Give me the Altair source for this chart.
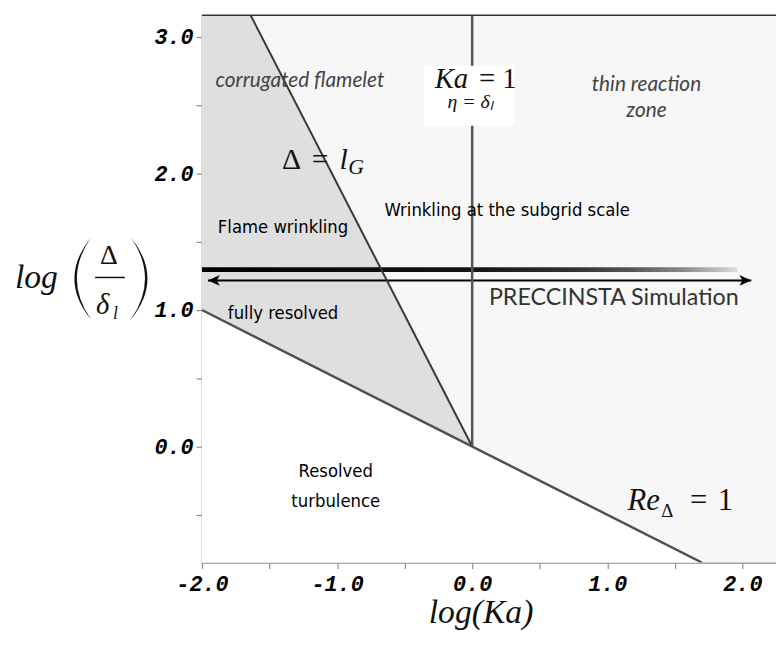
import altair as alt
import pandas as pd

# ---- data ----
x_min, x_max = -2.0, 2.249
y_min, y_max = -0.85, 3.16

# regime boundaries (log Ka, log Delta/delta_l)
re_x = [-2.0, 1.7]          # Re_Delta = 1
re_y = [1.0, -0.85]
lg_x = [0.0, -1.64]         # Delta = l_G
lg_y = [0.0, 3.16]
ka_x = [0.0, 0.0]           # Ka = 1
ka_y = [0.0, 3.16]

# PRECCINSTA simulation band
bar_x = [-2.0, 1.963]
bar_y = [1.278, 1.314]
arrow_x = [-1.956, 2.066]
arrow_y = [1.217, 1.217]

x_ticks = [-2.0, -1.5, -1.0, -0.5, 0.0, 0.5, 1.0, 1.5, 2.0]
y_ticks = [-0.5, 0.0, 0.5, 1.0, 1.5, 2.0, 2.5, 3.0]

# ---- layout ----
W, H = 580, 553
SERIF = "Liberation Serif"
SANS = "Lato"
COND = "'Liberation Sans Narrow', 'DejaVu Sans Condensed', 'Roboto Condensed', 'Roboto', sans-serif"
MONO = "Liberation Mono"

xs = alt.Scale(domain=[x_min, x_max], nice=False, zero=False)
ys = alt.Scale(domain=[y_min, y_max], nice=False, zero=False)
LBL = "datum.value % 1 == 0 ? (datum.value < 0 ? '-' : '') + format(abs(datum.value), '.1f') : ''"

axis_common = dict(title=None, grid=False, domainColor="#8c8c8c", domainWidth=1.5,
                   tickColor="#8c8c8c", tickWidth=1.2, tickSize=6,
                   labelFont=MONO, labelFontSize=22, labelFontWeight="bold",
                   labelFontStyle="italic", labelColor="#000",
                   labelFlush=False, labelOverlap=False, labelExpr=LBL)
x_axis = alt.Axis(values=x_ticks, labelPadding=5, **axis_common)
y_axis = alt.Axis(values=y_ticks, labelPadding=3, **axis_common)


def X(f="x"):
    return alt.X(f"{f}:Q", scale=xs, axis=x_axis)


def Y(f="y"):
    return alt.Y(f"{f}:Q", scale=ys, axis=y_axis)


one = alt.Data(values=[{}])

# background (thin reaction zone / subgrid wrinkling)
bg = alt.Chart(pd.DataFrame({"x": [x_min], "x2": [x_max], "y": [y_min], "y2": [y_max]})).mark_rect(
    color="#f7f7f7").encode(x=X(), x2="x2:Q", y=Y(), y2="y2:Q")

# corrugated flamelet region (darker)
dark = alt.Chart(pd.DataFrame({"x": [re_x[0], lg_x[1], lg_x[0]],
                               "y": [y_min, y_min, y_min],
                               "y2": [y_max, lg_y[1], lg_y[0]]})).mark_area(
    color="#dfdfdf", opacity=1).encode(x=X(), y=Y(), y2="y2:Q")

# resolved turbulence region (white, below Re line)
white = alt.Chart(pd.DataFrame({"x": re_x, "y": [y_min, y_min], "y2": re_y})).mark_area(
    color="#ffffff", opacity=1).encode(x=X(), y=Y(), y2="y2:Q")

# gradient bar
grad = alt.Gradient(gradient="linear", x1=0, x2=1, y1=0, y2=0, stops=[
    alt.GradientStop(offset=0.0, color="#000000"),
    alt.GradientStop(offset=0.5, color="#141414"),
    alt.GradientStop(offset=0.7, color="#333333"),
    alt.GradientStop(offset=0.8, color="#555555"),
    alt.GradientStop(offset=0.9, color="#8a8a8a"),
    alt.GradientStop(offset=0.96, color="#bbbbbb"),
    alt.GradientStop(offset=1.0, color="#dddddd"),
])
bar = alt.Chart(pd.DataFrame({"x": [bar_x[0]], "x2": [bar_x[1]], "y": [bar_y[0]], "y2": [bar_y[1]]})).mark_rect(
    color=grad).encode(x=X(), x2="x2:Q", y=Y(), y2="y2:Q")

arrow = alt.Chart(pd.DataFrame({"x": [arrow_x[0]], "x2": [arrow_x[1]], "y": [arrow_y[0]]})).mark_rule(
    color="#000", strokeWidth=2).encode(x=X(), x2="x2:Q", y=Y())
head_r = alt.Chart(pd.DataFrame({"x": [arrow_x[1]], "y": [arrow_y[1]]})).mark_point(
    shape="M0,0 L-2,-0.9 L-1.5,0 L-2,0.9 Z", filled=True, size=144, color="#000",
    opacity=1, strokeWidth=0).encode(x=X(), y=Y())
head_l = alt.Chart(pd.DataFrame({"x": [arrow_x[0]], "y": [arrow_y[0]]})).mark_point(
    shape="M0,0 L2,-0.9 L1.5,0 L2,0.9 Z", filled=True, size=144, color="#000",
    opacity=1, strokeWidth=0).encode(x=X(), y=Y())

# boundary lines
re_line = alt.Chart(pd.DataFrame({"x": re_x, "y": re_y})).mark_line(
    color="#505050", strokeWidth=2.5, clip=True).encode(x=X(), y=Y())
lg_line = alt.Chart(pd.DataFrame({"x": lg_x, "y": lg_y})).mark_line(
    color="#383838", strokeWidth=2, clip=True).encode(x=X(), y=Y(), order=alt.Order("y:Q"))
ka_line = alt.Chart(pd.DataFrame({"x": [ka_x[0]], "y": [ka_y[0]], "y2": [ka_y[1]]})).mark_rule(
    color="#555555", strokeWidth=2.5).encode(x=X(), y=Y(), y2="y2:Q")

# white box behind Ka = 1 label
kabox = alt.Chart(pd.DataFrame({"x": [-0.359], "x2": [0.315], "y": [2.35], "y2": [2.79]})).mark_rect(
    color="#ffffff").encode(x=X(), x2="x2:Q", y=Y(), y2="y2:Q")

# frame top
top = alt.Chart(one).mark_rule(color="#333333", strokeWidth=1.5).encode(
    x=alt.value(0), x2=alt.value(W), y=alt.value(0))


def txt(t, x, y, font=SERIF, size=20, color="#111", style="normal", weight="normal",
        align="center", baseline="alphabetic"):
    return alt.Chart(pd.DataFrame({"x": [x], "y": [y], "t": [t]})).mark_text(
        font=font, fontSize=size, color=color, fontStyle=style, fontWeight=weight,
        align=align, baseline=baseline).encode(x=X(), y=Y(), text="t:N")


def ptxt(t, px, py, font=SERIF, size=20, color="#111", style="normal", align="left",
         baseline="alphabetic"):
    return alt.Chart(one).mark_text(text=t, font=font, fontSize=size, color=color,
                                    fontStyle=style, align=align, baseline=baseline).encode(
        x=alt.value(px), y=alt.value(py))


texts = [
    txt("corrugated flamelet", -1.275, 2.675, SANS, 21, "#444", "italic", baseline="middle"),
    txt("thin reaction", 1.29, 2.65, SANS, 21, "#444", "italic", baseline="middle"),
    txt("zone", 1.29, 2.46, SANS, 21, "#444", "italic", baseline="middle"),
    txt("Ka", -0.03, 2.63, SERIF, 29, "#111", "italic", align="right"),
    txt("= 1", 0.05, 2.63, SERIF, 29, "#111", align="left"),
    txt("η = δₗ", -0.015, 2.48, SERIF, 20, "#111", "italic"),
    txt("Δ", -1.407, 2.036, SERIF, 30, "#111", align="left"),
    txt("=", -1.187, 2.036, SERIF, 30, "#111", align="left"),
    txt("l", -0.982, 2.036, SERIF, 30, "#111", "italic", align="left"),
    txt("G", -0.918, 1.995, SERIF, 22, "#111", "italic", align="left"),
    txt("Flame wrinkling", -1.40, 1.61, COND, 18.5, "#000", baseline="middle"),
    txt("Wrinkling at the subgrid scale", 0.26, 1.73, COND, 18.5, "#000", baseline="middle"),
    txt("fully resolved", -1.40, 0.98, COND, 18.5, "#000", baseline="middle"),
    txt("Resolved", -1.01, -0.18, COND, 18.5, "#000", baseline="middle"),
    txt("turbulence", -1.01, -0.40, COND, 18.5, "#000", baseline="middle"),
    txt("PRECCINSTA Simulation", 1.048, 1.087, SANS, 23.5, "#333", baseline="middle"),
    txt("Re", 1.15, -0.466, SERIF, 31, "#111", "italic", align="left"),
    txt("Δ", 1.40, -0.52, SERIF, 19, "#111", align="left"),
    txt("=", 1.612, -0.466, SERIF, 31, "#111", align="left"),
    txt("1", 1.817, -0.466, SERIF, 31, "#111", align="left"),
]

# axis titles
ytitle = [
    ptxt("log", -189, 276, SERIF, 34, "#111", "italic"),
    ptxt("Δ", -94, 251, SERIF, 28, "#111", align="center"),
    ptxt("δ", -107, 302, SERIF, 29, "#111", "italic"),
    ptxt("l", -90, 307, SERIF, 18, "#111", "italic"),
    alt.Chart(one).mark_rule(color="#111", strokeWidth=1.5).encode(
        x=alt.value(-108), x2=alt.value(-78), y=alt.value(265)),
    alt.Chart(one).mark_point(shape="M0.19,-1 Q-0.62,0 0.19,1 Q-0.5,0 0.19,-1 Z", filled=True,
                              size=6889, color="#111", opacity=1, strokeWidth=0).encode(
        x=alt.value(-120), y=alt.value(266)),
    alt.Chart(one).mark_point(shape="M-0.19,-1 Q0.62,0 -0.19,1 Q0.5,0 -0.19,-1 Z", filled=True,
                              size=6889, color="#111", opacity=1, strokeWidth=0).encode(
        x=alt.value(-64), y=alt.value(266)),
]
xtitle = [ptxt("log(Ka)", 282, 614, SERIF, 34, "#111", "italic", align="center")]

chart = alt.layer(bg, dark, white, bar, arrow, head_r, head_l, re_line, lg_line, ka_line,
                  kabox, top, *texts, *ytitle, *xtitle).properties(
    width=W, height=H,
    autosize=alt.AutoSizeParams(type="none"),
    padding={"left": 196, "top": 4, "right": 0, "bottom": 72},
).configure_view(stroke=None).configure(background="#ffffff")

chart.save("out.html", embed_options={"renderer": "svg", "actions": False})
